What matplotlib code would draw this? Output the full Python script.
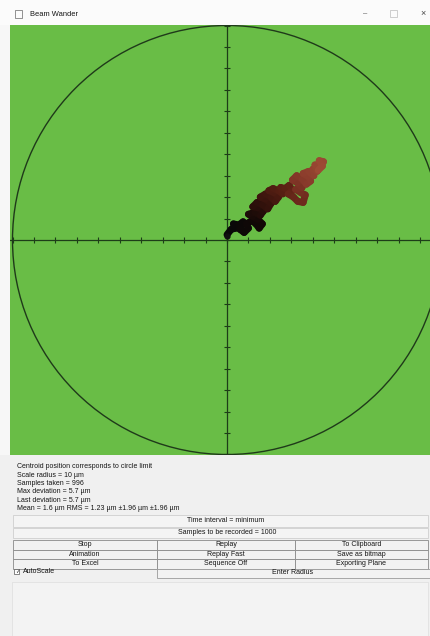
import matplotlib
matplotlib.use("Agg")
import matplotlib.pyplot as plt
import numpy as np
from matplotlib.patches import Rectangle, Circle
from matplotlib.collections import LineCollection
from matplotlib.colors import LinearSegmentedColormap, Normalize

# ---------------- data ----------------
window_title = "Beam Wander"
scale_radius = 10  # µm

trace_x = [0.0, 0.2, 0.4, 0.3, 0.55, 0.75, 0.6, 0.8, 1.0, 0.9, 1.15, 1.35, 1.5, 1.65,
           1.45, 1.2, 1.0, 1.3, 1.55, 1.7,
           1.45, 1.2, 1.4, 1.65, 1.9, 2.05, 1.8, 1.55, 1.8, 2.05, 2.25, 2.4, 2.2, 1.95,
           2.15, 2.4, 2.6, 2.5, 2.7,
           2.9, 3.05, 2.85, 3.1, 3.3, 3.55, 3.65, 3.45, 3.2, 3.5, 3.3, 3.05, 3.25, 3.5,
           3.7, 3.9, 3.8, 3.55, 3.8, 4.05, 4.0, 4.2, 4.1, 4.35, 4.5, 4.3, 4.45, 4.25]
trace_y = [0.25, 0.5, 0.55, 0.75, 0.7, 0.85, 0.5, 0.35, 0.55, 0.75, 0.9, 0.75, 0.55, 0.75,
           0.95, 1.1, 1.2, 1.3, 1.15, 1.35,
           1.5, 1.55, 1.75, 1.65, 1.45, 1.7, 1.9, 2.0, 2.15, 2.0, 1.8, 2.0, 2.2, 2.3,
           2.4, 2.3, 2.15, 2.45, 2.4,
           2.55, 2.3, 2.15, 2.0, 1.8, 1.75, 2.1, 2.2, 2.35, 2.45, 2.65, 2.8, 3.0, 2.85,
           2.6, 2.75, 2.95, 3.1, 3.2, 3.0, 3.3, 3.2, 3.5, 3.45, 3.65, 3.7, 3.45, 3.25]

info_lines = [
    "Centroid position corresponds to circle limit",
    "Scale radius = 10 µm",
    "Samples taken = 996",
    "Max deviation = 5.7 µm",
    "Last deviation = 5.7 µm",
    "Mean = 1.6 µm RMS = 1.23 µm ±1.96 µm ±1.96 µm",
]
time_label = "Time interval = minimum"
samples_label = "Samples to be recorded = 1000"
button_labels = [
    ["Stop", "Replay", "To Clipboard"],
    ["Animation", "Replay Fast", "Save as bitmap"],
    ["To Excel", "Sequence Off", "Exporting Plane"],
]
autoscale_label = "AutoScale"
radius_label = "Enter Radius"

# ---------------- figure ----------------
W, H = 430, 636
fig = plt.figure(figsize=(W / 100, H / 100), dpi=100, facecolor="#f0f0f0")
FONT = ["Liberation Sans", "DejaVu Sans"]


def fx(x):
    return x / W


def fy(y):
    return 1 - y / H


def rect(x0, y0, x1, y1, fc, ec="none", lw=0.6, z=1):
    fig.add_artist(Rectangle((fx(x0), fy(y1)), (x1 - x0) / W, (y1 - y0) / H,
                             transform=fig.transFigure, facecolor=fc,
                             edgecolor=ec, linewidth=lw, zorder=z))


def txt(x, y, s, size=5.0, ha="left", color="#151515"):
    fig.text(fx(x), fy(y), s, fontsize=size, ha=ha, va="center",
             color=color, family=FONT)


# title bar
rect(0, 0, W, 25, "#fbfbfb")
rect(15, 10, 22, 18, "none", "#666666", 0.5)
txt(30, 14, window_title, size=5.4)
txt(365, 14, "–", size=5.5, ha="center", color="#555555")
rect(390, 10, 397, 17, "none", "#bbbbbb", 0.5)
txt(423, 14, "×", size=6.5, ha="center", color="#444444")
# left border
rect(0, 25, 10, 455, "#f7f7f7")

# ---------------- plot ----------------
ax = fig.add_axes([fx(10), fy(455), 420 / W, 430 / H])
ax.set_facecolor("#69bd46")
px = 21.45
ax.set_xlim(-(227 - 10) / px, (430 - 227) / px)
ax.set_ylim(-(455 - 240) / px, (240 - 25) / px)

for side in ["top", "right"]:
    ax.spines[side].set_visible(False)
for side in ["left", "bottom"]:
    ax.spines[side].set_position(("data", 0))
    ax.spines[side].set_color("#1d3d18")
    ax.spines[side].set_linewidth(0.9)
ax.set_xticks(np.arange(-10, 10))
ax.set_yticks(np.arange(-10, 11))
ax.tick_params(direction="inout", length=4, width=0.8, color="#1d3d18",
               labelbottom=False, labelleft=False)

ax.add_patch(Circle((0, 0), scale_radius, fill=False, edgecolor="#1f3a1a",
                    linewidth=1.0, zorder=3))

pts = np.column_stack([trace_x, trace_y])
segs = np.stack([pts[:-1], pts[1:]], axis=1)
cmap = LinearSegmentedColormap.from_list(
    "wander", ["#080808", "#120806", "#3a140d", "#5e2215", "#86392a", "#9c4a34"])
lc = LineCollection(segs, cmap=cmap, norm=Normalize(0, len(segs) - 1),
                    linewidths=5.0, capstyle="round", joinstyle="round", zorder=4)
lc.set_array(np.arange(len(segs)))
ax.add_collection(lc)
ax.plot(trace_x[0], trace_y[0] - 0.05, "o", color="#101010", markersize=3.5, zorder=5)

# ---------------- lower panel ----------------
rect(0, 455, W, H, "#f0f0f0")
y0 = 467
for i, line in enumerate(info_lines):
    txt(17, y0 + i * 8.3, line)

# time interval row
rect(13, 515, 428, 527, "#f4f4f4", "#c8c8c8", 0.5)
txt(226, 521, time_label, ha="center")
# samples row
rect(13, 528, 428, 538, "#f4f4f4", "#c8c8c8", 0.5)
txt(227, 533, samples_label, ha="center")

# button grid
col_edges = [13, 157, 295, 428]
row_edges = [540, 549.5, 559, 568.5]
for r, row in enumerate(button_labels):
    for c, lab in enumerate(row):
        rect(col_edges[c], row_edges[r], col_edges[c + 1], row_edges[r + 1],
             "#f2f2f2", "#8a8a8a", 0.6)
        txt((col_edges[c] + col_edges[c + 1]) / 2,
            (row_edges[r] + row_edges[r + 1]) / 2, lab, ha="center")

# autoscale + enter radius
rect(14, 569, 19, 574, "#ffffff", "#555555", 0.5)
txt(15, 571.5, "✓", size=4, color="#222222")
txt(23, 571.5, autoscale_label)
rect(157, 569, 430, 578, "#f2f2f2", "#9a9a9a", 0.6)
txt(293, 573, radius_label, ha="center")

# empty area frame
rect(12, 582, 428, 636, "#f3f3f3", "#dddddd", 0.5)

fig.savefig("out.png", dpi=100, facecolor=fig.get_facecolor())
